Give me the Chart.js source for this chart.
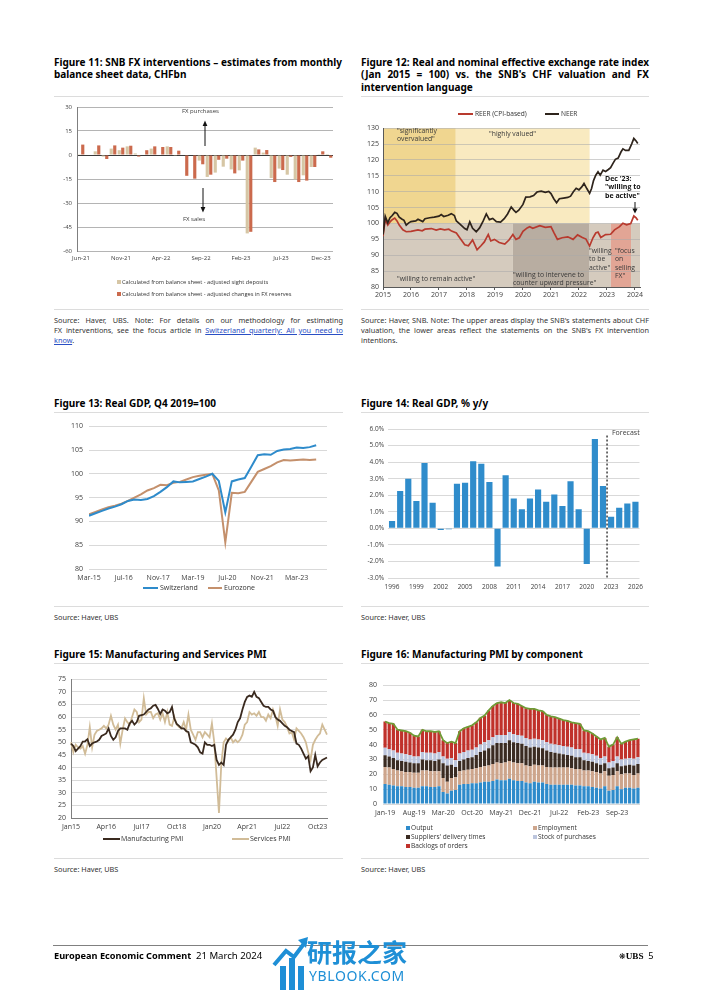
<!DOCTYPE html>
<html><head><meta charset="utf-8">
<script src="https://cdn.jsdelivr.net/npm/chart.js@4.4.1/dist/chart.umd.min.js"></script>
<style>
body{margin:0;width:702px;height:992px;position:relative;background:#fff;font-family:"Noto Sans",sans-serif;color:#000;overflow:hidden}
.abs{position:absolute}
.title{font-weight:bold;font-size:10px;line-height:12.3px;color:#000}
.jl{text-align:justify;text-align-last:justify}
.src{font-size:7.3px;line-height:10px;color:#333}
.src a{color:#2a4fc4;text-decoration:underline}
.hr{position:absolute;height:1px;background:#dcdcdc}
canvas{position:absolute}
.lg{position:absolute;font-family:"Open Sans",sans-serif;font-size:6.6px;line-height:8px;color:#333;white-space:nowrap}
.ln{position:absolute;height:2px}
.sq{position:absolute;width:4px;height:4px}
.ann{position:absolute;font-family:"Open Sans",sans-serif;font-size:6.8px;line-height:8.3px;color:#3a3a3a;white-space:nowrap}
</style></head>
<body>
<!-- Titles -->
<div class="abs title" style="left:54px;top:56px;width:288px">
 <div class="jl">Figure 11: SNB FX interventions – estimates from monthly</div>
 <div>balance sheet data, CHFbn</div>
</div>
<div class="abs title" style="left:361px;top:56px;width:288px">
 <div class="jl">Figure 12: Real and nominal effective exchange rate index</div>
 <div class="jl">(Jan 2015 = 100) vs. the SNB's CHF valuation and FX</div>
 <div>intervention language</div>
</div>
<div class="abs title" style="left:54px;top:397px">Figure 13: Real GDP, Q4 2019=100</div>
<div class="abs title" style="left:361px;top:397px">Figure 14: Real GDP, % y/y</div>
<div class="abs title" style="left:54px;top:648px">Figure 15: Manufacturing and Services PMI</div>
<div class="abs title" style="left:361px;top:648px">Figure 16: Manufacturing PMI by component</div>

<!-- separators -->
<div class="hr" style="left:54px;top:96px;width:289px"></div>
<div class="hr" style="left:361px;top:96px;width:288px"></div>
<div class="hr" style="left:54px;top:309px;width:289px"></div>
<div class="hr" style="left:361px;top:309px;width:288px"></div>
<div class="hr" style="left:54px;top:412px;width:289px"></div>
<div class="hr" style="left:361px;top:412px;width:288px"></div>
<div class="hr" style="left:54px;top:606px;width:289px"></div>
<div class="hr" style="left:361px;top:606px;width:288px"></div>
<div class="hr" style="left:54px;top:663px;width:289px"></div>
<div class="hr" style="left:361px;top:663px;width:288px"></div>
<div class="hr" style="left:54px;top:858px;width:289px"></div>
<div class="hr" style="left:361px;top:858px;width:288px"></div>

<!-- Sources -->
<div class="abs src" style="left:54px;top:315px;width:289px">
 <div class="jl">Source: Haver, UBS. Note: For details on our methodology for estimating</div>
 <div class="jl">FX interventions, see the focus article in <a>Switzerland quarterly: All you need to</a></div>
 <div><a>know</a>.</div>
</div>
<div class="abs src" style="left:361px;top:315px;width:288px">
 <div class="jl">Source: Haver, SNB. Note: The upper areas display the SNB's statements about CHF</div>
 <div class="jl">valuation, the lower areas reflect the statements on the SNB's FX intervention</div>
 <div>intentions.</div>
</div>
<div class="abs src" style="left:54px;top:612px">Source: Haver, UBS</div>
<div class="abs src" style="left:361px;top:612px">Source: Haver, UBS</div>
<div class="abs src" style="left:54px;top:864px">Source: Haver, UBS</div>
<div class="abs src" style="left:361px;top:864px">Source: Haver, UBS</div>

<!-- canvases -->
<canvas id="c11" width="292" height="168" style="left:50px;top:98px"></canvas>
<canvas id="c12" width="290" height="182" style="left:358px;top:120px"></canvas>
<canvas id="c13" width="280" height="168" style="left:55px;top:416px"></canvas>
<canvas id="c14" width="290" height="175" style="left:358px;top:420px"></canvas>
<canvas id="c15" width="287" height="165" style="left:48px;top:670px"></canvas>
<canvas id="c16" width="293" height="146" style="left:355px;top:675px"></canvas>

<!-- Fig 11 annotations & legend -->
<div class="ann" style="left:182px;top:107px;font-size:6px">FX purchases</div>
<div class="ann" style="left:183px;top:215px;font-size:6px">FX sales</div>
<div class="sq" style="left:117px;top:280px;background:#D6C6A5"></div>
<div class="lg" style="left:122px;top:278px;font-size:5.7px">Calculated from balance sheet - adjusted sight deposits</div>
<div class="sq" style="left:117px;top:292px;background:#CB6A4D"></div>
<div class="lg" style="left:122px;top:290px;font-size:5.7px">Calculated from balance sheet - adjusted changes in FX reserves</div>

<!-- Fig 12 legend & annotations -->
<div class="ln" style="left:458px;top:113px;width:15px;background:#B83A2E"></div>
<div class="lg" style="left:475px;top:110px">REER (CPI-based)</div>
<div class="ln" style="left:545px;top:113px;width:14px;background:#2E241C"></div>
<div class="lg" style="left:561px;top:110px">NEER</div>
<div class="ann" style="left:397px;top:127px">"significantly<br>overvalued"</div>
<div class="ann" style="left:489px;top:130px">"highly valued"</div>
<div class="ann" style="left:397px;top:275px">"willing to remain active"</div>
<div class="ann" style="left:513px;top:271px">"willing to intervene to<br>counter upward pressure"</div>
<div class="ann" style="left:589px;top:247px">"willing<br>to be<br>active"</div>
<div class="ann" style="left:615px;top:247px">"focus<br>on<br>selling<br>FX"</div>
<div class="ann" style="left:605px;top:175px;font-weight:bold;color:#111;font-size:7px">Dec '23:<br>"willing to<br>be active"</div>

<!-- Fig 13 legend -->
<div class="ln" style="left:143px;top:587px;width:15px;background:#2E8BCB"></div>
<div class="lg" style="left:160px;top:584px;font-size:7px">Switzerland</div>
<div class="ln" style="left:208px;top:587px;width:14px;background:#C4906C"></div>
<div class="lg" style="left:224px;top:584px;font-size:7px">Eurozone</div>

<!-- Fig 14 annotation -->
<div class="ann" style="left:612px;top:429px;font-size:7px">Forecast</div>

<!-- Fig 15 legend -->
<div class="ln" style="left:103px;top:838px;width:17px;background:#3A2A1F"></div>
<div class="lg" style="left:121px;top:835px;font-size:7px">Manufacturing PMI</div>
<div class="ln" style="left:232px;top:838px;width:17px;background:#D1BC98"></div>
<div class="lg" style="left:250px;top:835px;font-size:7px">Services PMI</div>

<!-- Fig 16 legend -->
<div class="sq" style="left:406px;top:826px;background:#2E8BCB"></div>
<div class="lg" style="left:411px;top:824px">Output</div>
<div class="sq" style="left:533px;top:826px;background:#CDA58C"></div>
<div class="lg" style="left:538px;top:824px">Employment</div>
<div class="sq" style="left:406px;top:835px;background:#3A2B22"></div>
<div class="lg" style="left:411px;top:833px">Suppliers' delivery times</div>
<div class="sq" style="left:533px;top:835px;background:#BCC5DD"></div>
<div class="lg" style="left:538px;top:833px">Stock of purchases</div>
<div class="sq" style="left:406px;top:844px;background:#C0312B"></div>
<div class="lg" style="left:411px;top:842px">Backlogs of orders</div>

<!-- arrows -->
<svg class="abs" style="left:0;top:0" width="702" height="992">
 <line x1="205" y1="146" x2="205" y2="125" stroke="#111" stroke-width="1"/>
 <polygon points="205,120.5 202.6,126 207.4,126" fill="#111"/>
 <line x1="203" y1="188" x2="203" y2="208" stroke="#111" stroke-width="1"/>
 <polygon points="203,212.5 200.6,207 205.4,207" fill="#111"/>
 <line x1="635" y1="202" x2="635" y2="209" stroke="#111" stroke-width="1"/>
 <polygon points="635,213.5 632.4,208.5 637.6,208.5" fill="#111"/>
</svg>

<!-- Footer -->
<div class="abs" style="left:53px;top:945px;width:595px;height:1px;background:#808080"></div>
<div class="abs" style="left:54px;top:950px;font-size:9.2px;line-height:12px;white-space:nowrap"><b>European Economic Comment</b>&nbsp; <span style="font-size:9.6px">21 March 2024</span></div>
<div class="abs" style="left:619px;top:950px;font-size:9.2px;line-height:12px;white-space:nowrap"><span style="font-family:'DejaVu Sans';font-size:8px">❋</span><span style="font-family:'Liberation Serif';font-weight:bold">UBS</span>&nbsp; 5</div>

<!-- watermark -->
<div class="abs" style="left:280px;top:966px;width:6px;height:24px;background:#1E8FD6"></div>
<div class="abs" style="left:289px;top:958px;width:6px;height:32px;background:#1E8FD6"></div>
<div class="abs" style="left:298px;top:966px;width:6px;height:24px;background:#1E8FD6"></div>
<svg class="abs" style="left:270px;top:935px" width="40" height="35"><polyline points="4,30 16,16 24,22 36,6" fill="none" stroke="#1E8FD6" stroke-width="4"/><polygon points="38,2 28,5 36,13" fill="#1E8FD6"/></svg>
<div class="abs" style="left:307px;top:936px;font-family:'Noto Sans CJK SC';font-weight:bold;font-size:25px;line-height:30px;color:#1E8FD6;white-space:nowrap">研报之家</div>
<div class="abs" style="left:309px;top:967px;font-family:'Noto Sans';font-size:14px;line-height:18px;color:#1E8FD6;letter-spacing:0.6px;white-space:nowrap">YBLOOK.COM</div>

<script>
// ================= DATA =================
// Figure 11: SNB FX interventions (CHFbn), monthly Jun-21 .. Jan-24
const fxMonths = ['Jun-21','Jul-21','Aug-21','Sep-21','Oct-21','Nov-21','Dec-21','Jan-22','Feb-22','Mar-22','Apr-22','May-22','Jun-22','Jul-22','Aug-22','Sep-22','Oct-22','Nov-22','Dec-22','Jan-23','Feb-23','Mar-23','Apr-23','May-23','Jun-23','Jul-23','Aug-23','Sep-23','Oct-23','Nov-23','Dec-23','Jan-24'];
const fxSightDeposits = [0.5, 0, 2.3, -1, 4, 3, 5.4, 1, 0, 4, 0, 5.4, -0.5, 0, 0, -3.5, -13.7, -11, -7.3, -9, -9.6, -49, 4.6, 1.5, -14.4, -8.5, -12.3, -15.2, -12.7, -7.5, 0.5, 0.6];
const fxReserves = [6.5, 0, 6, -2.5, 6, 4.6, 5.8, -1, 3, 5.4, 5, 5, 2.7, -13, -14.8, -5.8, -12.3, -3, -2.3, -11.5, -3.5, -48, 3.5, 3.1, -16.9, -9.4, -1.2, -16.9, -16, -7.5, 2.3, -1.7];
const fxTickEvery = 5;

// Figure 12: effective exchange rates (Jan 2015 = 100)
const neerT = [2015.00,2015.08,2015.17,2015.25,2015.33,2015.42,2015.50,2015.58,2015.67,2015.75,2015.83,2015.92,2016.00,2016.17,2016.25,2016.42,2016.50,2016.67,2016.83,2017.00,2017.08,2017.17,2017.33,2017.44,2017.55,2017.62,2017.75,2017.92,2018.00,2018.10,2018.20,2018.33,2018.45,2018.58,2018.69,2018.80,2018.92,2019.05,2019.20,2019.33,2019.45,2019.58,2019.67,2019.75,2019.85,2020.00,2020.10,2020.25,2020.38,2020.50,2020.65,2020.80,2020.92,2021.00,2021.10,2021.20,2021.30,2021.45,2021.60,2021.70,2021.80,2021.90,2022.00,2022.10,2022.18,2022.28,2022.38,2022.45,2022.52,2022.60,2022.68,2022.76,2022.86,2022.95,2023.05,2023.13,2023.22,2023.30,2023.40,2023.50,2023.57,2023.66,2023.78,2023.88,2023.96,2024.04,2024.10];
const neerV = [96.5,102.3,100.2,101.8,102.5,103.5,103.2,102.0,101.4,101.0,99.5,100.2,100.6,100.8,101.3,100.6,101.5,101.8,102.0,102.3,102.8,102.2,102.6,103.1,102.5,100.8,99.8,98.4,98.0,100.5,98.5,97.4,98.6,100.8,103.0,101.2,101.6,100.6,100.4,101.5,103.0,105.2,104.2,103.5,104.2,106.0,108.3,108.4,108.8,109.9,110.2,109.8,110.1,109.4,107.8,106.5,107.8,108.0,108.2,108.6,110.0,111.1,110.6,111.5,112.6,111.0,109.5,111.0,113.5,115.2,116.3,115.2,116.8,116.4,117.0,117.6,119.0,120.2,120.6,122.5,123.5,123.0,123.0,125.0,126.8,126.0,125.2];
const reerT = [2015.00,2015.08,2015.17,2015.25,2015.33,2015.42,2015.50,2015.58,2015.71,2015.83,2016.00,2016.25,2016.40,2016.50,2016.73,2016.90,2017.05,2017.20,2017.35,2017.45,2017.62,2017.74,2017.92,2018.05,2018.20,2018.36,2018.50,2018.62,2018.69,2018.76,2018.85,2018.98,2019.15,2019.35,2019.50,2019.64,2019.75,2019.87,2020.00,2020.15,2020.24,2020.35,2020.60,2020.80,2021.00,2021.10,2021.23,2021.40,2021.60,2021.79,2021.95,2022.12,2022.25,2022.38,2022.50,2022.60,2022.68,2022.78,2022.95,2023.13,2023.27,2023.45,2023.57,2023.70,2023.85,2023.96,2024.04,2024.10];
const reerV = [96.0,101.3,99.5,100.5,101.2,101.7,100.8,99.5,98.0,97.4,97.5,98.0,97.7,98.2,98.4,97.9,98.3,98.0,98.2,97.6,97.0,95.5,93.3,93.0,94.8,91.7,93.0,94.2,95.4,96.5,94.5,95.0,94.0,93.5,94.8,96.5,95.0,95.5,97.5,98.6,99.0,98.5,99.3,98.8,99.0,97.2,95.0,95.5,95.8,95.0,96.4,95.6,95.1,92.9,95.5,97.0,97.3,95.6,96.5,96.6,98.0,99.0,100.1,99.6,100.0,102.4,101.8,101.0];
const eerYMin = 80, eerYMax = 130, eerXMin = 2015, eerXMax = 2024.18;
// SNB valuation statements (upper area, 100-130) and intervention statements (lower area, 80-100)
const valFrom = [2015, 2017.6];
const valTo   = [2017.6, 2022.38];
const valKey  = ['sig', 'high'];
const intFrom = [2015, 2019.64, 2022.38, 2023.14, 2023.86];
const intTo   = [2019.64, 2022.38, 2023.14, 2023.86, 2024.18];
const intKey  = ['remain', 'intervene', 'active', 'selling', 'active'];
const upperBand = [100, 130], lowerBand = [80, 100];

// Figure 13: Real GDP, Q4 2019 = 100, quarterly Q1 2015 .. Q4 2023
const gdpTickLabels = ['Mar-15','Jul-16','Nov-17','Mar-19','Jul-20','Nov-21','Mar-23'];
const gdpSwitzerland = [91.2,91.7,92.2,92.7,93.1,93.6,94.3,94.6,94.5,94.7,95.3,96.2,97.2,98.4,98.2,98.3,98.4,98.9,99.4,100,98.5,91.9,98.4,98.8,99.1,101.5,103.9,104.1,104.0,104.8,105.1,105.2,105.5,105.4,105.6,106.0];
const gdpEurozone    = [91.5,92.0,92.5,93.0,93.3,93.7,94.3,95.0,95.7,96.5,97.0,97.7,97.6,98.1,98.3,98.8,99.3,99.6,99.8,100,96.5,85.6,96.0,95.9,96.2,98.3,100.4,101.0,101.6,102.4,102.9,102.8,102.9,103.0,102.9,103.0];

// Figure 14: Real GDP % y/y
const gdpYears = [1996,1997,1998,1999,2000,2001,2002,2003,2004,2005,2006,2007,2008,2009,2010,2011,2012,2013,2014,2015,2016,2017,2018,2019,2020,2021,2022,2023,2024,2025,2026];
const gdpGrowth = [0.45,2.25,3.0,1.65,3.95,1.55,-0.1,-0.05,2.7,2.75,4.05,3.9,2.8,-2.3,3.2,1.8,1.15,1.8,2.35,1.6,2.05,1.35,2.85,1.15,-2.15,5.4,2.55,0.7,1.25,1.5,1.6];
const forecastStartYear = 2023, forecastLineTop = 5.6;

// Figure 15: PMI, monthly Jan 2015 .. Feb 2024
const pmiManufacturing = [
 49.5,48.5,46.5,47.5,48.5,50.3,50.4,51.2,48.5,49.5,50,50.3,
 51,52.5,53,53.5,55.5,52.5,51,52,54.5,55.5,55.5,55.5,
 55,57.5,58.5,57,58,60.5,60.8,61,62,63,63.5,64.5,
 64.8,63.2,61.2,63,62.5,61.5,62,64,59.3,57.3,56.5,55.5,
 55.5,54.5,54,50,49.5,49,48,46,45.5,50,49,49,
 48.5,49,43,41,42,41,49,51,52,53,55,58,
 59.5,63,66,68,68.5,68,70,68,67.5,66,64.5,64,
 64,63,62.5,60,59,58.5,57.5,56.5,56,55,54.5,54,
 49.5,49,47.5,45.5,43.5,44.5,38.5,40,45,40.5,42,43,
 43.5,44];
const pmiServices = [
 50,46,49,48,47.5,48.5,45.5,49,56,48,53,54.5,
 55,55.5,56.5,55.5,57,60.5,57,55,57,49.5,55,59.5,
 58,57,60,63,62,58,59,67.5,61,62,62,59.5,
 61,61.5,59,61.5,58,62,57,56.5,60,57,56,55.5,
 58,55,61,55,53,51,54,54,52,54,53,52,
 57.5,50,36,22,41.5,50,51.5,50.5,52,50,51,50,
 51,53,57,58,62,61,61.5,60.5,62,60,60,58.5,
 61,59.5,63,60.5,56.5,63,59,58,56,53.5,54,51,
 55.5,54.5,53.5,52,50,46,43,49,51,52.5,53.5,57,
 55,53];
const pmiStart = [2015, 0], pmiTickEvery = 15;

// Figure 16: manufacturing PMI components, monthly Jan-19 .. Feb-24
const compOutput = [13.4,13,12.5,12,12,11.5,11.5,11,11,12, 12,11.5,11.5,12,8,7,9,9.5,13,13.5, 13.5,14,14,14.5,15,15,15.5,16.5,16,16, 17,16,15.5,15.5,14.5,14,15,14.5,14.5,13.5, 13,13,13,13,13,13,12.5,12.5,12,12, 11.5,11,10.5,12,9,9.5,12,10,11,11, 10.5,11];
const compEmployment = [11.5,11.5,11,10.5,10,10,10,10,10,10.5, 10.5,10.5,10.5,10,9.5,8,8.5,8.5,9,9, 9.5,9.5,10,10.5,10.5,11,11.5,11.5,11.5,12, 12,12,12,12,11.5,11.5,11.5,11.5,11.5,11.5, 11.5,11.5,11.5,11.5,11.5,11,11,11,10.5,10.5, 10.5,10.5,10,10,10,10,10,10,9.5,9.5, 9,9.5];
const compDelivery = [8,7.5,7.5,7,7,7,6.5,6.5,6.5,7.5, 7,7.5,7,8,10,11,9,7,7,7.5, 8,8,9,10,10.5,11.5,12.5,13,13.5,13, 14,13.5,13.5,13,13,12.5,12,12,11.5,11, 10.5,10,9.5,9,8.5,8.5,8,8,7,6.5, 6.5,6,6,5.5,5,5,5.5,5.5,5.5,6, 6.5,6.5];
const compStock = [5,5,5,5,5,5,5,4.5,4.5,5, 5,5,5,5,4.5,4.5,4.5,4.5,5,5, 5,5,5,5,5.5,5.5,5.5,5.5,5.5,5.5, 5.5,5.5,5.5,5.5,5.5,5.5,5.5,5.5,5.5,5.5, 5.5,5.5,5.5,5.5,5.5,5.5,5.5,5.5,5,5, 5,5,4.5,4.5,4,4.5,4.5,4.5,4.5,4.5, 4.5,4.5];
const compBacklog = [17.6,17.5,18,15.5,15.5,15.5,15,14,13.5,15, 14.5,14.5,14.5,14,11,10.5,11,11.5,15,16, 16,16.5,17,18,18,20,21,21.5,22,21.5, 21.5,21,21,20,20,20.5,20,19.5,19.5,18.5, 18.5,18.5,18,17.5,17.5,17,17.5,17,15,15, 14,13,12.5,12.5,10.5,11,13,10.5,11.5,12, 13,12.5];
const compTotal = [55.5,54.5,54,50,49.5,49,48,46,45.5,50, 49,49,48.5,49,43,41,42,41,49,51, 52,53,55,58,59.5,63,66,68,68.5,68, 70,68,67.5,66,64.5,64,64,63,62.5,60, 59,58.5,57.5,56.5,56,55,54.5,54,49.5,49, 47.5,45.5,43.5,44.5,38.5,40,45,40.5,42,43, 43.5,44];
const compStart = [2019, 0], compTickEvery = 7;

// ================= STYLE =================
const COL = {sight:'#D6C6A5', reserves:'#CB6A4D', neer:'#2E241C', reer:'#B83A2E', ch:'#2E8BCB', ez:'#C4906C',
  gdp:'#2F8CCB', mfg:'#3A2A1F', srv:'#D1BC98', output:'#2E8BCB', employment:'#CDA58C', delivery:'#3A2B22',
  stock:'#BCC5DD', backlog:'#C0312B', total:'#6F9B36', grid:'#d9d9d9', tick:'#404040'};
const BAND_COL = {sig:'#F0D690', high:'#F9EAC0', remain:'#D5CBBE', intervene:'#B8ADA1', active:'#D5CBBE', selling:'#E2A595'};

// ================= HELPERS =================
const MON = ['Jan','Feb','Mar','Apr','May','Jun','Jul','Aug','Sep','Oct','Nov','Dec'];
function monthLabels(start, n, sep){
  const out=[]; let y=start[0], m=start[1];
  for(let i=0;i<n;i++){ out.push(MON[m]+sep+String(y%100).padStart(2,'0')); m++; if(m>11){m=0;y++;} }
  return out;
}
const fixW = w => s => { s.width = w; };
const fixH = h => s => { s.height = h; };
Chart.defaults.font.family = "'Open Sans', sans-serif";
Chart.defaults.color = COL.tick;
function base(pad){
  return {responsive:false, maintainAspectRatio:false, animation:false, devicePixelRatio:1,
    layout:{padding:pad}, plugins:{legend:{display:false}, tooltip:{enabled:false}},
    elements:{point:{radius:0}, line:{tension:0}}};
}
const cv = id => document.getElementById(id);
const NOGRID = {display:false, drawTicks:false};

// ================= FIGURE 11 =================
(function(){
  const o = base({left:0, top:9, right:9, bottom:0});
  o.scales = {
    x:{grid:NOGRID, border:{display:false},
       ticks:{autoSkip:false, maxRotation:0, padding:4, font:{size:6}, callback:(v,i)=> i%fxTickEvery===0 ? fxMonths[i] : ''},
       afterFit:fixH(15)},
    y:{min:-60, max:30, ticks:{stepSize:15, font:{size:6}, padding:5},
       grid:{drawTicks:false, color:c=> (c.tick && c.tick.value===0) ? '#3a3a3a' : '#b4b4b4'},
       border:{color:'#7f7f7f'}, afterFit:fixW(27)}
  };
  new Chart(cv('c11'), {type:'bar', data:{labels:fxMonths, datasets:[
    {data:fxSightDeposits, backgroundColor:COL.sight, barPercentage:0.9, categoryPercentage:0.88},
    {data:fxReserves, backgroundColor:COL.reserves, barPercentage:0.9, categoryPercentage:0.88}]}, options:o});
})();

// ================= FIGURE 12 =================
const bandPlugin = {id:'bands', beforeDraw(chart){
  const {ctx, chartArea:a, scales:{x,y}} = chart;
  ctx.save();
  const fill = (x0,x1,y0,y1,c)=>{
    const l = Math.max(a.left, x.getPixelForValue(x0)), r = Math.min(a.right, x.getPixelForValue(x1));
    const t = y.getPixelForValue(y1), b = y.getPixelForValue(y0);
    ctx.fillStyle = c; ctx.fillRect(l, t, r-l, b-t);
  };
  valFrom.forEach((f,i)=>fill(f, valTo[i], upperBand[0], upperBand[1], BAND_COL[valKey[i]]));
  intFrom.forEach((f,i)=>fill(f, intTo[i], lowerBand[0], lowerBand[1], BAND_COL[intKey[i]]));
  ctx.restore();
}};
(function(){
  const o = base({left:0, top:8, right:8, bottom:0});
  o.scales = {
    x:{type:'linear', min:eerXMin, max:eerXMax,
       ticks:{stepSize:1, includeBounds:false, autoSkip:false, maxRotation:0, padding:1, font:{size:7}, callback:v=>String(v)},
       grid:{drawOnChartArea:false, drawTicks:true, tickLength:3, color:'#595959'}, border:{color:'#595959'}, afterFit:fixH(15)},
    y:{min:eerYMin, max:eerYMax, ticks:{stepSize:5, font:{size:7}, padding:4},
       grid:{drawTicks:false, color:'rgba(170,170,170,0.55)'}, border:{color:'#595959'}, afterFit:fixW(25)}
  };
  new Chart(cv('c12'), {type:'line', data:{datasets:[
    {data:neerT.map((t,i)=>({x:t, y:neerV[i]})), borderColor:COL.neer, borderWidth:1.7, pointRadius:0},
    {data:reerT.map((t,i)=>({x:t, y:reerV[i]})), borderColor:COL.reer, borderWidth:1.7, pointRadius:0}]},
    options:o, plugins:[bandPlugin]});
})();

// ================= FIGURE 13 =================
(function(){
  const o = base({left:0, top:10, right:8, bottom:0});
  o.scales = {
    x:{type:'linear', min:0, max:110,
       ticks:{stepSize:16, includeBounds:false, autoSkip:false, maxRotation:0, padding:5, font:{size:7}, callback:v=> gdpTickLabels[v/16] || ''},
       grid:NOGRID, border:{display:false}, afterFit:fixH(15)},
    y:{min:80, max:110, ticks:{stepSize:5, font:{size:7}, padding:6},
       grid:{drawTicks:false, color:COL.grid}, border:{display:false}, afterFit:fixW(34)}
  };
  const pts = arr => arr.map((v,i)=>({x:i*3, y:v}));
  new Chart(cv('c13'), {type:'line', data:{datasets:[
    {data:pts(gdpSwitzerland), borderColor:COL.ch, borderWidth:2, pointRadius:0},
    {data:pts(gdpEurozone), borderColor:COL.ez, borderWidth:2, pointRadius:0}]}, options:o});
})();

// ================= FIGURE 14 =================
const forecastPlugin = {id:'forecast', afterDatasetsDraw(chart){
  const {ctx, scales:{x,y}} = chart;
  const px = x.getPixelForValue(gdpYears.indexOf(forecastStartYear) - 0.5);
  ctx.save(); ctx.strokeStyle = '#111'; ctx.lineWidth = 1.2; ctx.setLineDash([2,2]);
  ctx.beginPath(); ctx.moveTo(px, y.getPixelForValue(forecastLineTop)); ctx.lineTo(px, y.getPixelForValue(y.min)); ctx.stroke();
  ctx.restore();
}};
(function(){
  const o = base({left:0, top:9, right:8, bottom:0});
  o.scales = {
    x:{grid:NOGRID, border:{display:false},
       ticks:{autoSkip:false, maxRotation:0, padding:5, font:{size:6.5}, callback:(v,i)=> i%3===0 ? String(gdpYears[i]) : ''},
       afterFit:fixH(17)},
    y:{min:-3, max:6, ticks:{stepSize:1, font:{size:6.5}, padding:4, callback:v=> v.toFixed(1)+'%'},
       grid:{drawTicks:false, color:COL.grid}, border:{display:false}, afterFit:fixW(30)}
  };
  new Chart(cv('c14'), {type:'bar', data:{labels:gdpYears.map(String), datasets:[
    {data:gdpGrowth, backgroundColor:COL.gdp, barPercentage:0.76, categoryPercentage:1}]}, options:o, plugins:[forecastPlugin]});
})();

// ================= FIGURE 15 =================
(function(){
  const labels = monthLabels(pmiStart, pmiManufacturing.length, '');
  const o = base({left:0, top:8, right:8, bottom:0});
  o.scales = {
    x:{grid:NOGRID, border:{color:'#7f7f7f'},
       ticks:{autoSkip:false, maxRotation:0, padding:5, font:{size:7}, callback:(v,i)=> i%pmiTickEvery===0 ? labels[i] : ''},
       afterFit:fixH(17)},
    y:{min:20, max:75, ticks:{stepSize:5, font:{size:7}, padding:5},
       grid:{drawTicks:false, color:COL.grid}, border:{color:'#7f7f7f'}, afterFit:fixW(23)}
  };
  new Chart(cv('c15'), {type:'line', data:{labels, datasets:[
    {data:pmiManufacturing, borderColor:COL.mfg, borderWidth:1.8, pointRadius:0},
    {data:pmiServices, borderColor:COL.srv, borderWidth:1.8, pointRadius:0}]}, options:o});
})();

// ================= FIGURE 16 =================
(function(){
  const labels = monthLabels(compStart, compTotal.length, '-');
  const bar = (d,c)=>({type:'bar', data:d, backgroundColor:c, stack:'pmi', order:1, barPercentage:0.78, categoryPercentage:1});
  const o = base({left:0, top:8, right:8, bottom:0});
  o.scales = {
    x:{stacked:true, grid:NOGRID, border:{display:false},
       ticks:{autoSkip:false, maxRotation:0, padding:5, font:{size:7}, callback:(v,i)=> i%compTickEvery===0 ? labels[i] : ''},
       afterFit:fixH(17)},
    y:{stacked:true, min:0, max:80, ticks:{stepSize:10, font:{size:7}, padding:6},
       grid:{drawTicks:false, color:COL.grid}, border:{display:false}, afterFit:fixW(28)}
  };
  new Chart(cv('c16'), {type:'bar', data:{labels, datasets:[
    bar(compOutput, COL.output), bar(compEmployment, COL.employment), bar(compDelivery, COL.delivery),
    bar(compStock, COL.stock), bar(compBacklog, COL.backlog),
    {type:'line', data:compTotal, borderColor:COL.total, borderWidth:1.8, pointRadius:0, stack:'total', order:0}]}, options:o});
})();
</script>
</body></html>
